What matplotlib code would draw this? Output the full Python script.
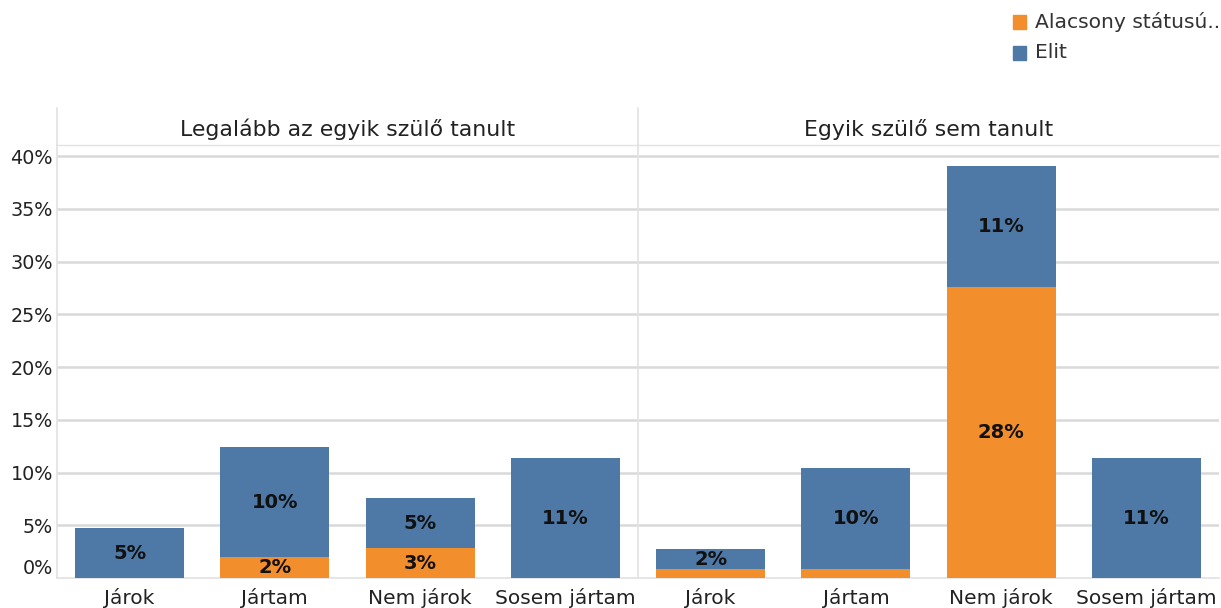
import matplotlib
matplotlib.use('Agg')
import matplotlib.pyplot as plt
from matplotlib.patches import Rectangle
from matplotlib.lines import Line2D

plt.rcParams['font.family'] = ['DejaVu Sans']

categories = ['Járok', 'Jártam', 'Nem járok', 'Sosem jártam']
panels = ['Legalább az egyik szülő tanult', 'Egyik szülő sem tanult']
series = ['Alacsony státusú..', 'Elit']

alacsony_left = [0.0, 2.0, 2.84, 0.0]
elit_left = [4.74, 10.4, 4.74, 11.37]
alacsony_right = [0.85, 0.85, 27.6, 0.0]
elit_right = [1.9, 9.6, 11.45, 11.37]

yticks = [0, 5, 10, 15, 20, 25, 30, 35, 40]

ORANGE = '#F28E2B'
BLUE = '#4E79A7'
GRID = '#d9d9d9'
LINE = '#e2e2e2'

W, H = 1221, 608
fig = plt.figure(figsize=(W / 100, H / 100), dpi=100)
fig.patch.set_facecolor('white')


def fx(px):
    return px / W


def fy(py):
    return 1 - py / H


panel_x = [(57, 638), (638, 1219)]
data = [(alacsony_left, elit_left), (alacsony_right, elit_right)]

for i, ((x0, x1), (low, elit), title) in enumerate(zip(panel_x, data, panels)):
    ax = fig.add_axes([fx(x0), fy(578), fx(x1 - x0), (578 - 145) / H])
    xs = range(len(categories))
    ax.bar(xs, low, width=0.75, color=ORANGE, zorder=3)
    ax.bar(xs, elit, width=0.75, bottom=low, color=BLUE, zorder=3)

    # segment labels, small segments stay unlabelled
    for x, lo, el in zip(xs, low, elit):
        if lo >= 1.5:
            ax.text(x, lo / 2, f'{lo:.0f}%', ha='center', va='center',
                    fontsize=14, fontweight='bold', color='#111111', zorder=4)
        if el >= 1.5:
            ax.text(x, lo + el / 2, f'{el:.0f}%', ha='center', va='center',
                    fontsize=14, fontweight='bold', color='#111111', zorder=4)

    ax.set_xlim(-0.5, len(categories) - 0.5)
    ax.set_ylim(0, 41.05)
    ax.set_yticks(yticks)
    for y in yticks[1:]:
        ax.axhline(y, color=GRID, lw=1.8, zorder=1)

    ax.set_xticks(list(xs))
    ax.set_xticklabels(categories, fontsize=14.5, color='#222222')
    ax.tick_params(axis='x', length=0, pad=7)

    if i == 0:
        ax.set_yticklabels([f'{y}%' for y in yticks], fontsize=13.8, color='#222222')
        ax.tick_params(axis='y', length=0, pad=3)
        ax.get_yticklabels()[0].set_va('bottom')
    else:
        ax.tick_params(axis='y', length=0, labelleft=False)

    for side in ['top', 'right']:
        ax.spines[side].set_visible(False)
    ax.spines['bottom'].set_color(LINE)
    ax.spines['left'].set_color(LINE)
    ax.spines['bottom'].set_linewidth(1.2)
    ax.spines['left'].set_linewidth(1.2)

    # header band
    fig.add_artist(Line2D([fx(x0), fx(x1)], [fy(145), fy(145)], color=LINE, lw=1))
    fig.add_artist(Line2D([fx(x0), fx(x0)], [fy(108), fy(145)], color=LINE, lw=1.2))
    fig.text(fx((x0 + x1) / 2), fy(129), title, ha='center', va='center',
             fontsize=15.8, color='#222222')

# legend
for j, (name, col) in enumerate(zip(series, [ORANGE, BLUE])):
    yc = 22 + j * 31
    fig.add_artist(Rectangle((fx(1013), fy(yc + 6.5)), fx(13), 13 / H, color=col,
                             transform=fig.transFigure))
    fig.text(fx(1035), fy(yc), name, ha='left', va='center', fontsize=14.6,
             color='#333333')

plt.savefig('out.png', dpi=100, facecolor='white')
plt.close()
